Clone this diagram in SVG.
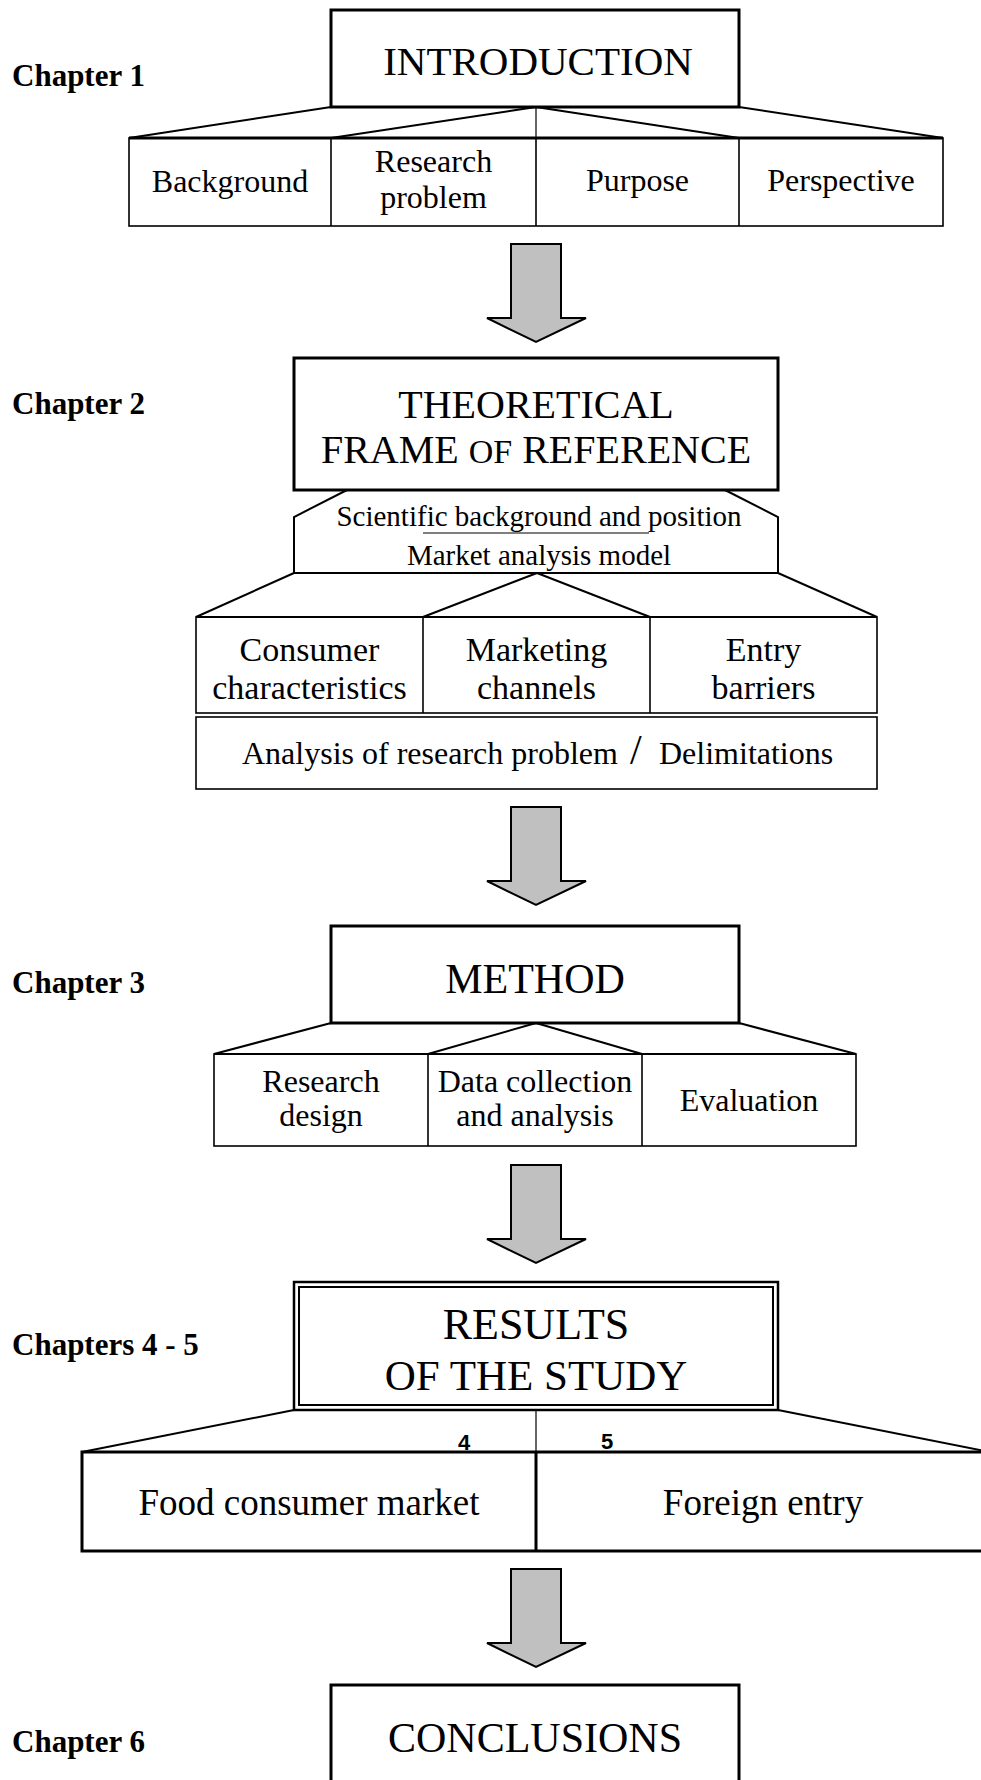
<svg xmlns="http://www.w3.org/2000/svg" width="981" height="1780" viewBox="0 0 981 1780">
  <style>
    .bg { fill: #ffffff; }
    .main { fill: #ffffff; stroke: #000; stroke-width: 3; }
    .cell { fill: none; stroke: #000; stroke-width: 1.6; }
    .edge { fill: none; stroke: #000; stroke-width: 2; }
    .thin { fill: none; stroke: #000; stroke-width: 1.2; }
    .arrow { fill: #c0c0c0; stroke: #000; stroke-width: 2; stroke-linejoin: miter; }
    text { font-family: "Liberation Serif", "Times New Roman", "Noto Sans CJK JP", serif; fill: #000; }
    .chap { font-size: 31px; font-weight: bold; }
    .title { text-anchor: middle; }
    .item { font-size: 32px; text-anchor: middle; }
    .sub { font-size: 29px; text-anchor: middle; }
    .mid { font-size: 34px; text-anchor: middle; }
    .big { font-size: 37px; text-anchor: middle; }
    .num { font-family: "Liberation Sans", Arial, sans-serif; font-size: 22px; font-weight: bold; text-anchor: middle; }
  </style>
  <defs>
    <!-- block arrow pointing down, origin at top-left of the shaft -->
    <polygon id="down-arrow" points="0,0 50,0 50,74 75,74 25,98 -24,74 0,74"/>
  </defs>

  <rect class="bg" x="0" y="0" width="981" height="1780"/>

  <!-- chapter labels -->
  <g id="chapter-labels">
    <text class="chap" x="12" y="86">Chapter 1</text>
    <text class="chap" x="12" y="414">Chapter 2</text>
    <text class="chap" x="12" y="993">Chapter 3</text>
    <text class="chap" x="12" y="1355">Chapters 4 - 5</text>
    <text class="chap" x="12" y="1752">Chapter 6</text>
  </g>

  <!-- connectors: fan-out lines from each heading and the block arrows -->
  <g id="connectors">
    <!-- introduction fan -->
    <line class="edge" x1="331" y1="107" x2="129" y2="138"/>
    <line class="edge" x1="536" y1="107" x2="331" y2="138"/>
    <line class="thin" x1="536" y1="107" x2="536" y2="138"/>
    <line class="edge" x1="536" y1="107" x2="739" y2="138"/>
    <line class="edge" x1="739" y1="107" x2="943" y2="138"/>
    <!-- theoretical frame: hexagon shoulders -->
    <polyline class="edge" points="347,490 294,517 294,573"/>
    <polyline class="edge" points="725,490 778,517 778,573"/>
    <!-- model fan -->
    <line class="edge" x1="294" y1="573" x2="196" y2="617"/>
    <line class="edge" x1="537" y1="573" x2="423" y2="617"/>
    <line class="edge" x1="537" y1="573" x2="650" y2="617"/>
    <line class="edge" x1="778" y1="573" x2="877" y2="617"/>
    <!-- method fan -->
    <line class="edge" x1="331" y1="1023" x2="214" y2="1054"/>
    <line class="edge" x1="536" y1="1023" x2="428" y2="1054"/>
    <line class="edge" x1="536" y1="1023" x2="642" y2="1054"/>
    <line class="edge" x1="739" y1="1023" x2="856" y2="1054"/>
    <!-- results fan -->
    <line class="edge" x1="294" y1="1410" x2="82" y2="1452"/>
    <line class="thin" x1="536" y1="1410" x2="536" y2="1452"/>
    <line class="edge" x1="778" y1="1410" x2="990" y2="1452"/>
    <!-- block arrows -->
    <use href="#down-arrow" class="arrow" x="511" y="244"/>
    <use href="#down-arrow" class="arrow" x="511" y="807"/>
    <use href="#down-arrow" class="arrow" x="511" y="1165"/>
    <use href="#down-arrow" class="arrow" x="511" y="1569"/>
  </g>

  <!-- chapter 1 -->
  <g id="introduction">
    <rect class="main" x="331" y="10" width="408" height="97"/>
    <text class="title" x="538" y="75" font-size="41">INTRODUCTION</text>
  </g>
  <g id="intro-topics">
    <rect class="cell" x="129" y="138" width="814" height="88"/>
    <line x1="129" y1="138" x2="943" y2="138" stroke="#000" stroke-width="3"/>
    <line class="cell" x1="331" y1="138" x2="331" y2="226"/>
    <line class="cell" x1="536" y1="138" x2="536" y2="226"/>
    <line class="cell" x1="739" y1="138" x2="739" y2="226"/>
    <text class="item" x="230" y="192">Background</text>
    <text class="item" x="433.5" y="172">Research</text>
    <text class="item" x="433.5" y="208">problem</text>
    <text class="item" x="637.5" y="191">Purpose</text>
    <text class="item" x="841" y="191">Perspective</text>
  </g>

  <!-- chapter 2 -->
  <g id="theoretical-frame">
    <rect class="main" x="294" y="358" width="484" height="132"/>
    <text class="title" x="536" y="418" font-size="40">THEORETICAL</text>
    <text class="title" x="536" y="463" font-size="40">FRAME <tspan font-size="34">OF</tspan> REFERENCE</text>
  </g>
  <g id="market-model">
    <line class="edge" x1="294" y1="573" x2="778" y2="573"/>
    <line class="thin" x1="423" y1="533" x2="649" y2="533"/>
    <text class="sub" x="539" y="526">Scientific background and position</text>
    <text class="sub" x="539" y="565">Market analysis model</text>
  </g>
  <g id="model-factors">
    <rect class="cell" x="196" y="617" width="681" height="96"/>
    <line class="edge" x1="196" y1="617" x2="877" y2="617"/>
    <line class="cell" x1="423" y1="617" x2="423" y2="713"/>
    <line class="cell" x1="650" y1="617" x2="650" y2="713"/>
    <text class="mid" x="309.5" y="661">Consumer</text>
    <text class="mid" x="309.5" y="699">characteristics</text>
    <text class="mid" x="536.5" y="661">Marketing</text>
    <text class="mid" x="536.5" y="699">channels</text>
    <text class="mid" x="763.5" y="661">Entry</text>
    <text class="mid" x="763.5" y="699">barriers</text>
  </g>
  <g id="problem-analysis">
    <rect class="cell" x="196" y="717" width="681" height="72"/>
    <text font-size="32" y="764"><tspan x="242">Analysis of research problem</tspan><tspan x="630" font-size="42" font-weight="normal">/</tspan><tspan x="659">Delimitations</tspan></text>
  </g>

  <!-- chapter 3 -->
  <g id="method">
    <rect class="main" x="331" y="926" width="408" height="97"/>
    <text class="title" x="535" y="993" font-size="42">METHOD</text>
  </g>
  <g id="method-topics">
    <rect class="cell" x="214" y="1054" width="642" height="92"/>
    <line class="edge" x1="214" y1="1054" x2="856" y2="1054"/>
    <line class="cell" x1="428" y1="1054" x2="428" y2="1146"/>
    <line class="cell" x1="642" y1="1054" x2="642" y2="1146"/>
    <text class="item" x="321" y="1092">Research</text>
    <text class="item" x="321" y="1126">design</text>
    <text class="item" x="535" y="1092">Data collection</text>
    <text class="item" x="535" y="1126">and analysis</text>
    <text class="item" x="749" y="1111">Evaluation</text>
  </g>

  <!-- chapters 4 and 5 -->
  <g id="results">
    <rect x="294" y="1282" width="484" height="128" fill="#fff" stroke="#000" stroke-width="2.5"/>
    <rect x="299" y="1287" width="474" height="118" fill="none" stroke="#000" stroke-width="2"/>
    <text class="title" x="536" y="1339" font-size="44">RESULTS</text>
    <text class="title" x="536" y="1390" font-size="43">OF THE STUDY</text>
  </g>
  <g id="results-parts">
    <rect x="82" y="1452" width="908" height="99" fill="none" stroke="#000" stroke-width="3"/>
    <line x1="536" y1="1452" x2="536" y2="1551" stroke="#000" stroke-width="3"/>
    <text class="num" x="464" y="1450">4</text>
    <text class="num" x="607" y="1449">5</text>
    <text class="big" x="309" y="1515">Food consumer market</text>
    <text class="big" x="763" y="1515">Foreign entry</text>
  </g>

  <!-- chapter 6 -->
  <g id="conclusions">
    <rect class="main" x="331" y="1685" width="408" height="110"/>
    <text class="title" x="535" y="1752" font-size="42">CONCLUSIONS</text>
  </g>
</svg>
